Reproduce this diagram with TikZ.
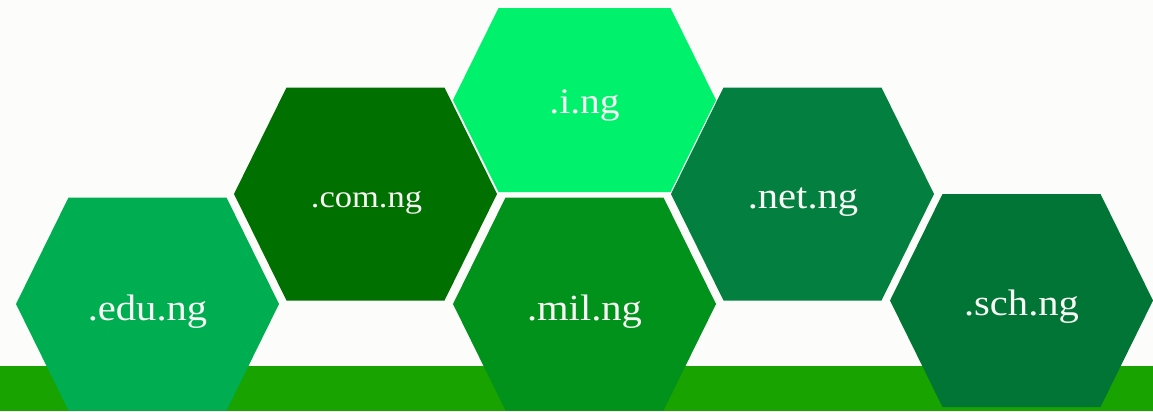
\documentclass[tikz,border=0pt]{standalone}
\usepackage{fontspec}
\setmainfont[FakeStretch=1.1]{Liberation Serif}
\definecolor{bgc}{HTML}{FCFCFA}
\definecolor{bandc}{HTML}{19A300}
\definecolor{educ}{HTML}{00AE52}
\definecolor{comc}{HTML}{007000}
\definecolor{ingc}{HTML}{00F26C}
\definecolor{milc}{HTML}{00921A}
\definecolor{netc}{HTML}{038040}
\definecolor{schc}{HTML}{007535}
\definecolor{txtc}{HTML}{F8F8F4}
\tikzset{
  hexlabel/.style={text=txtc, anchor=base, inner sep=0pt, font=\fontsize{37}{40}\selectfont},
}
% hexagon: center (cx,cy), half width w, half height h, half top edge t
\newcommand{\myhex}[6]{%
  \fill[#6] (#1-#3,#2) -- (#1-#5,#2-#4) -- (#1+#5,#2-#4) -- (#1+#3,#2) -- (#1+#5,#2+#4) -- (#1-#5,#2+#4) -- cycle;}
\begin{document}
\begin{tikzpicture}[x=1bp,y=-1bp]
\useasboundingbox (0,0) rectangle (1153,411);
\fill[bgc] (0,0) rectangle (1153,411);
\fill[bandc] (0,366) rectangle (1153,411);
\myhex{147.5}{304}{131.5}{106.5}{79}{educ}
\myhex{365.5}{194}{131.5}{106.5}{79}{comc}
\myhex{584.5}{100}{131.5}{92}{86}{ingc}
\myhex{584.5}{304}{131.5}{106.5}{79}{milc}
\myhex{802.5}{194}{131.5}{106.5}{79}{netc}
\myhex{1021.5}{300.5}{131.5}{106.5}{79}{schc}
\node[hexlabel] (edu) at (147.5,320) {.edu.ng};
\node[hexlabel, font=\fontsize{31.5}{34}\selectfont] (com) at (366.5,207) {.com.ng};
\node[hexlabel, font=\fontsize{36}{40}\selectfont] (ing) at (584.5,113) {.i.ng};
\node[hexlabel] (mil) at (584.5,320) {.mil.ng};
\node[hexlabel] (net) at (803,208) {.net.ng};
\node[hexlabel] (sch) at (1021.5,315) {.sch.ng};
\end{tikzpicture}
\end{document}
